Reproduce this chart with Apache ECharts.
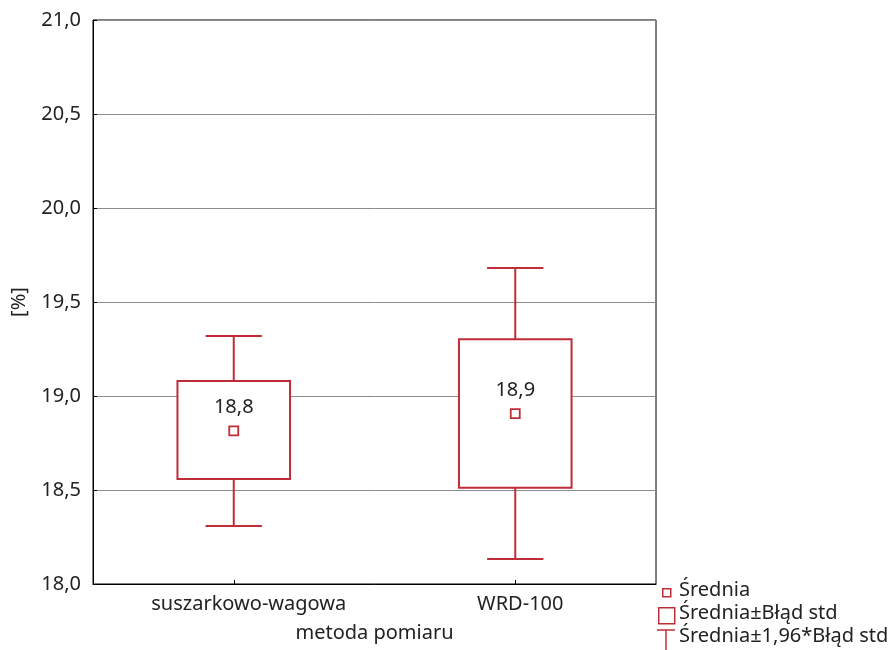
<!DOCTYPE html>
<html>
<head>
<meta charset="utf-8">
<script src="https://cdn.jsdelivr.net/npm/echarts@6/dist/echarts.min.js"></script>
<style>
html,body{margin:0;padding:0;background:#fff;}
#chart{width:896px;height:650px;}
</style>
</head>
<body>
<div id="chart"></div>
<script>
// ---- data ----
var categories = ['suszarkowo-wagowa', 'WRD-100'];
var means = [18.814, 18.906];
var seLow = [18.559, 18.512];
var seHigh = [19.080, 19.302];
var ciLow = [18.309, 18.133];
var ciHigh = [19.319, 19.681];
var legendNames = ['Średnia', 'Średnia±Błąd std', 'Średnia±1,96*Błąd std'];
var yTicks = { min: 18, max: 21, interval: 0.5 };
var axisTitles = { x: 'metoda pomiaru', y: '[%]' };

// ---- styles ----
var RED = '#bf2e38';
var TXT = '#222';
var FONT = 'Noto Sans';
var FS = 20;
var LABEL_SHIFT = [30, 10]; // left padding (px) of x labels, as in the reference placement

var whiskerData = categories.map(function (c, i) { return [i, ciLow[i], ciHigh[i]]; });
var boxData = categories.map(function (c, i) { return [i, seLow[i], seHigh[i]]; });
var meanData = categories.map(function (c, i) { return [i, means[i]]; });

function fmt(v) { return v.toFixed(1).replace('.', ','); }

var chart = echarts.init(document.getElementById('chart'), null, { renderer: 'canvas' });

var option = {
  backgroundColor: '#fff',
  animation: false,
  textStyle: { fontFamily: FONT },
  grid: {
    left: 93, right: 240, top: 20, bottom: 66,
    show: true, borderColor: '#000', borderWidth: 1, backgroundColor: 'transparent'
  },
  xAxis: {
    type: 'category',
    data: categories,
    name: axisTitles.x,
    nameLocation: 'middle',
    nameGap: 39,
    nameTextStyle: { color: TXT, fontSize: FS, fontFamily: FONT },
    axisLine: { lineStyle: { color: '#000', width: 1 } },
    axisTick: { show: true, inside: true, length: 4, alignWithLabel: true, lineStyle: { color: '#000' } },
    axisLabel: {
      interval: 0, hideOverlap: false,
      color: TXT, fontSize: FS, fontFamily: FONT, margin: 10,
      formatter: function (v, i) { return '{l' + i + '|' + v + '}'; },
      rich: {
        l0: { color: TXT, fontSize: FS, fontFamily: FONT, padding: [0, 0, 0, LABEL_SHIFT[0]] },
        l1: { color: TXT, fontSize: FS, fontFamily: FONT, padding: [0, 0, 0, LABEL_SHIFT[1]] }
      }
    },
    splitLine: { show: false }
  },
  yAxis: {
    type: 'value',
    min: yTicks.min, max: yTicks.max, interval: yTicks.interval,
    name: axisTitles.y,
    nameLocation: 'middle',
    nameGap: 64,
    nameRotate: 90,
    nameTextStyle: { color: TXT, fontSize: FS, fontFamily: FONT },
    axisLine: { show: true, lineStyle: { color: '#000', width: 1 } },
    axisTick: { show: true, inside: true, length: 4, lineStyle: { color: '#000' } },
    axisLabel: { color: TXT, fontSize: FS, fontFamily: FONT, margin: 12, formatter: function (v) { return fmt(v); } },
    splitLine: { show: true, lineStyle: { color: '#8c8c8c', width: 1 } }
  },
  series: [
    {
      name: legendNames[2],
      type: 'custom',
      z: 2,
      data: whiskerData,
      renderItem: function (params, api) {
        var x = api.value(0);
        var lo = api.coord([x, api.value(1)]);
        var hi = api.coord([x, api.value(2)]);
        var band = api.size([1, 0])[0];
        var cap = band * 0.1;
        var st = { stroke: RED, lineWidth: 2, fill: null };
        return {
          type: 'group',
          children: [
            { type: 'line', shape: { x1: lo[0], y1: lo[1], x2: hi[0], y2: hi[1] }, style: st },
            { type: 'line', shape: { x1: hi[0] - cap, y1: hi[1], x2: hi[0] + cap, y2: hi[1] }, style: st },
            { type: 'line', shape: { x1: lo[0] - cap, y1: lo[1], x2: lo[0] + cap, y2: lo[1] }, style: st }
          ]
        };
      }
    },
    {
      name: legendNames[1],
      type: 'custom',
      z: 3,
      data: boxData,
      renderItem: function (params, api) {
        var x = api.value(0);
        var lo = api.coord([x, api.value(1)]);
        var hi = api.coord([x, api.value(2)]);
        var band = api.size([1, 0])[0];
        var w = band * 0.4;
        return {
          type: 'rect',
          shape: { x: lo[0] - w / 2, y: hi[1], width: w, height: lo[1] - hi[1] },
          style: { fill: '#fff', stroke: RED, lineWidth: 2 }
        };
      }
    },
    {
      name: legendNames[0],
      type: 'scatter',
      z: 4,
      data: meanData,
      symbol: 'rect',
      symbolSize: 9,
      itemStyle: { color: '#fff', borderColor: RED, borderWidth: 1.8, opacity: 1 },
      label: {
        show: true, position: 'top', distance: 8,
        color: TXT, fontSize: FS, fontFamily: FONT,
        formatter: function (p) { return fmt(p.value[1]); }
      },
      emphasis: { disabled: true }
    }
  ],
  graphic: [
    { type: 'rect', left: 662, top: 588, shape: { width: 8, height: 8 }, style: { fill: '#fff', stroke: RED, lineWidth: 1.5 } },
    { type: 'text', left: 679, top: 580, style: { text: legendNames[0], fill: TXT, font: FS + 'px "' + FONT + '"' } },
    { type: 'rect', left: 658, top: 607, shape: { width: 16, height: 16 }, style: { fill: '#fff', stroke: RED, lineWidth: 1.5 } },
    { type: 'text', left: 679, top: 603, style: { text: legendNames[1], fill: TXT, font: FS + 'px "' + FONT + '"' } },
    { type: 'line', shape: { x1: 657, y1: 630, x2: 675, y2: 630 }, style: { stroke: RED, lineWidth: 1.5 } },
    { type: 'line', shape: { x1: 666, y1: 630, x2: 666, y2: 650 }, style: { stroke: RED, lineWidth: 1.5 } },
    { type: 'text', left: 679, top: 626, style: { text: legendNames[2], fill: TXT, font: FS + 'px "' + FONT + '"' } }
  ]
};

chart.setOption(option);
</script>
</body>
</html>
